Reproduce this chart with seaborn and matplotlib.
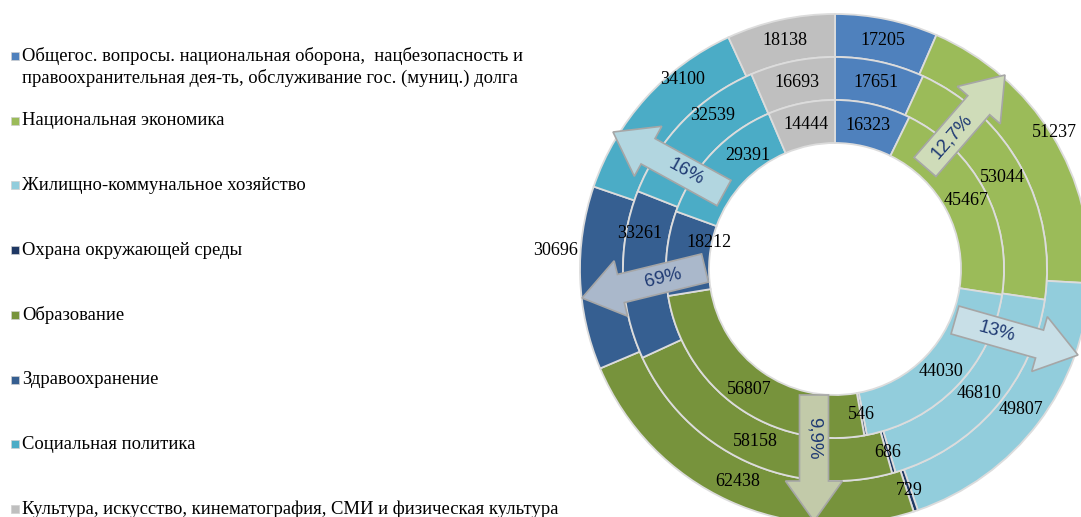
import numpy as np
import matplotlib
matplotlib.use("Agg")
import matplotlib.pyplot as plt
import seaborn as sns
from matplotlib.patches import FancyArrow

sns.set_style("white")

categories = [
    "Общегос. вопросы. национальная оборона,  нацбезопасность и\n"
    "правоохранительная дея-ть, обслуживание гос. (муниц.) долга",
    "Национальная экономика",
    "Жилищно-коммунальное хозяйство",
    "Охрана окружающей среды",
    "Образование",
    "Здравоохранение",
    "Социальная политика",
    "Культура, искусство, кинематография, СМИ и физическая культура",
]
colors = ["#4F81BD", "#9BBB59", "#92CDDC", "#1F3864",
          "#77933C", "#365F91", "#4BACC6", "#BFBFBF"]

inner_vals = [16323, 45467, 44030, 546, 56807, 18212, 29391, 14444]
middle_vals = [17651, 53044, 46810, 686, 58158, 33261, 32539, 16693]
outer_vals = [17205, 51237, 49807, 729, 62438, 30696, 34100, 18138]

arrow_labels = ["12,7%", "13%", "9,9%", "69%", "16%"]

# figure in pixel units so the axes map 1:1 to the output image
W, H = 1081, 517
fig = plt.figure(figsize=(W / 100, H / 100), dpi=100)
ax = fig.add_axes([0, 0, 1, 1])

cx, cy = 835, H - 269
R, ring = 255, 43

# labels moved by hand in the original (ring, slice): (dx, dy)
label_shift = {(2, 5): (21, 13), (2, 6): (20, 12), (1, 5): (-5, 41),
               (1, 6): (14, 21), (0, 1): (21, 14), (0, 5): (-46, 27),
               (0, 6): (21, 33)}

for k, vals in enumerate([outer_vals, middle_vals, inner_vals]):
    radius = R - k * ring
    wedges, _ = ax.pie(vals, colors=colors, radius=radius, center=(cx, cy),
                       startangle=90, counterclock=False,
                       wedgeprops=dict(width=ring, edgecolor="#DCDCDC", linewidth=1.3))
    r_mid = radius - ring / 2
    for i, (w, v) in enumerate(zip(wedges, vals)):
        ang = np.deg2rad((w.theta1 + w.theta2) / 2)
        dx, dy = label_shift.get((k, i), (0, 0))
        ax.text(cx + r_mid * np.cos(ang) + dx, cy + r_mid * np.sin(ang) + dy, str(v),
                ha="center", va="center", fontsize=13, family="Liberation Serif",
                color="black", zorder=6)

# block arrows (tail, tip) in image pixels from top-left
arrow_geom = [((925, 167), (1005, 75)), ((955, 320), (1078, 355)),
              ((814, 395), (814, 521)), ((705, 268), (582, 298)),
              ((724, 193), (613, 132))]
arrow_fill = ["#CFDCB9", "#C8DFE7", "#C2CAA9", "#AAB8CB", "#B2D6E0"]
head_len = 40

for lab, (tail, tip), fc in zip(arrow_labels, arrow_geom, arrow_fill):
    x0, y0 = tail[0], H - tail[1]
    x1, y1 = tip[0], H - tip[1]
    ddx, ddy = x1 - x0, y1 - y0
    L = np.hypot(ddx, ddy)
    ux, uy = ddx / L, ddy / L
    ax.add_patch(FancyArrow(x0, y0, ddx, ddy, width=29, head_width=57,
                            head_length=head_len, length_includes_head=True,
                            facecolor=fc, edgecolor="#A6A6A6", linewidth=1.2, zorder=5))
    rot = np.degrees(np.arctan2(ddy, ddx))
    if rot > 90:
        rot -= 180
    elif rot < -90:
        rot += 180
    m = (L - head_len) / 2
    ax.text(x0 + ux * m, y0 + uy * m, lab, rotation=rot, rotation_mode="anchor",
            ha="center", va="center", fontsize=13.5, family="Liberation Sans",
            color="#1F3A73", zorder=7)

# legend on the left
for i, (name, c) in enumerate(zip(categories, colors)):
    y = H - (56 + i * 64.7)
    ax.scatter([15], [y], marker="s", s=40, color=c, edgecolors="#D0D0D0",
               linewidths=0.5, zorder=5)
    for j, line in enumerate(name.split("\n")):
        ax.text(22, y - j * 22, line, ha="left", va="center", fontsize=13.4,
                family="Liberation Serif", color="black")

ax.set_xlim(0, W)
ax.set_ylim(0, H)
ax.set_aspect("equal")
ax.axis("off")

plt.savefig("out.png", dpi=100)
